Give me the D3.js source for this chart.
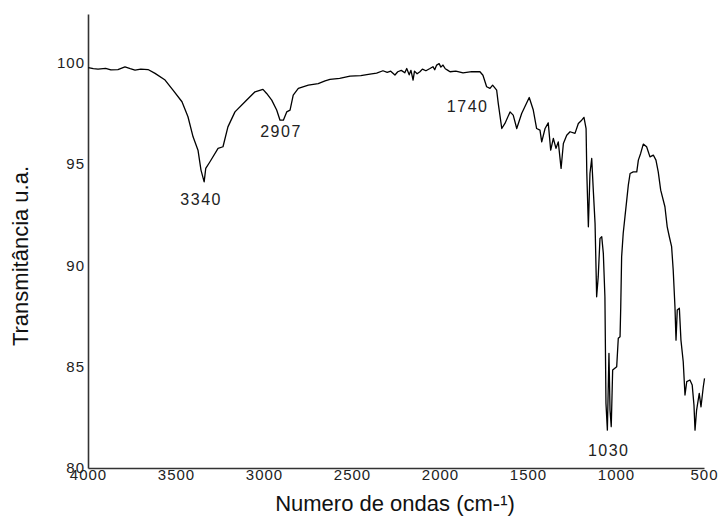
<!DOCTYPE html>
<html>
<head>
<meta charset="utf-8">
<script src="https://cdn.jsdelivr.net/npm/d3@7"></script>
<style>
  html, body { margin: 0; padding: 0; background: #fff; }
  svg { display: block; font-family: "Liberation Sans", Arial, sans-serif; }
</style>
</head>
<body>
<svg id="chart" width="719" height="517"></svg>
<script>
// wavenumber (cm-1)
const waveNumbers = [
  3998, 3970, 3943, 3900, 3870, 3830, 3790, 3760, 3733, 3700, 3659, 3619, 3562, 3517,
  3466, 3432, 3403, 3375, 3358, 3340, 3331, 3307, 3261, 3233, 3205, 3165, 3108, 3051,
  3006, 2985, 2956, 2928, 2909, 2890, 2871, 2852, 2834, 2805, 2748, 2692, 2653, 2625,
  2570, 2511, 2450, 2398, 2360, 2324, 2300, 2280, 2256, 2240, 2220, 2200, 2189, 2175,
  2165, 2153, 2145, 2130, 2114, 2100, 2080, 2057, 2040, 2030, 2019, 2005, 1995, 1983,
  1970, 1955, 1943, 1910, 1869, 1820, 1773, 1756, 1735, 1716, 1701, 1678, 1669, 1649,
  1631, 1602, 1584, 1564, 1536, 1493, 1470, 1451, 1432, 1422, 1403, 1385, 1371, 1356,
  1341, 1328, 1312, 1299, 1280, 1261, 1233, 1214, 1195, 1182, 1170, 1166, 1157, 1148,
  1138, 1129, 1119, 1110, 1101, 1091, 1081, 1072, 1063, 1057, 1049, 1040, 1034, 1027,
  1019, 996, 987, 977, 973, 968, 959, 949, 939, 930, 920, 902, 882, 873, 860, 845,
  826, 807, 788, 773, 760, 746, 722, 709, 697, 684, 675, 665, 659, 652, 640, 631,
  618, 608, 598, 580, 567, 557, 551, 542, 527, 517, 504, 497
];

// transmittance (u.a.)
const transmittance = [
  99.76, 99.70, 99.68, 99.72, 99.64, 99.66, 99.79, 99.70, 99.63, 99.68, 99.66, 99.47, 99.14, 98.64,
  98.07, 97.33, 96.34, 95.68, 94.70, 94.12, 94.78, 95.11, 95.77, 95.85, 96.83, 97.57, 98.07, 98.56,
  98.68, 98.48, 98.15, 97.66, 97.16, 97.16, 97.57, 97.66, 98.40, 98.73, 98.89, 98.97, 99.10, 99.17,
  99.22, 99.33, 99.36, 99.43, 99.48, 99.60, 99.52, 99.58, 99.39, 99.55, 99.62, 99.50, 99.71, 99.40,
  99.62, 99.14, 99.58, 99.45, 99.55, 99.68, 99.60, 99.71, 99.80, 99.65, 99.88, 99.95, 99.78, 99.88,
  99.70, 99.62, 99.55, 99.58, 99.50, 99.56, 99.55, 99.38, 98.81, 98.73, 98.89, 98.64, 97.99, 96.75,
  97.00, 97.57, 97.41, 96.75, 97.49, 98.28, 97.66, 96.75, 96.67, 96.09, 96.75, 97.03, 95.68, 96.26,
  95.77, 96.09, 94.78, 96.01, 96.42, 96.59, 96.51, 97.00, 97.16, 97.30, 96.75, 94.61, 91.90, 94.53,
  95.27, 93.71, 92.07, 88.45, 89.44, 91.33, 91.41, 90.59, 88.45, 83.19, 81.87, 85.66, 82.86, 82.04,
  84.83, 85.00, 86.40, 86.48, 87.96, 90.42, 91.58, 92.40, 93.22, 93.96, 94.53, 94.61, 94.61, 95.19, 95.52, 95.98,
  95.85, 95.35, 95.44, 95.19, 94.61, 93.71, 92.89, 91.90, 91.41, 90.92, 89.77, 87.96, 86.31, 87.79, 87.88, 86.31,
  85.24, 83.60, 84.26, 84.34, 84.09, 83.11, 81.87, 82.86, 83.68, 83.02, 84.01, 84.42
];

const xTicks = [4000, 3500, 3000, 2500, 2000, 1500, 1000, 500];
const yTicks = [80, 85, 90, 95, 100];

// peak labels, anchored at the band minimum they describe
const peakNames = ["3340", "2907", "1740", "1030"];
const peakWave = [3340, 2909, 1735, 1030];
const peakTrans = [94.12, 97.16, 98.81, 81.87];

const spectrum = waveNumbers.map((w, i) => ({ w: w, t: transmittance[i] }));
const peaks = peakNames.map((n, i) => ({ text: n, w: peakWave[i], t: peakTrans[i] }));

const svg = d3.select("#chart");
const margin = { top: 14, right: 15, bottom: 49, left: 88 };
const width = 719 - margin.left - margin.right;
const height = 517 - margin.top - margin.bottom;

const x = d3.scaleLinear().domain([4000, 500]).range([margin.left, margin.left + width]);
const y = d3.scaleLinear().domain([80, 102.4]).range([margin.top + height, margin.top]);

// x axis
const gx = svg.append("g")
  .attr("transform", `translate(0, ${margin.top + height})`)
  .call(d3.axisBottom(x).tickValues(xTicks).tickSize(0).tickPadding(1.5).tickFormat(d3.format("d")));

// y axis
const gy = svg.append("g")
  .attr("transform", `translate(${margin.left}, 0)`)
  .call(d3.axisLeft(y).tickValues(yTicks).tickSize(0).tickPadding(3).tickFormat(d3.format("d")));

[gx, gy].forEach(g => {
  g.select(".domain").attr("stroke", "#333").attr("stroke-width", 1.6);
  g.selectAll("text")
    .attr("fill", "#222")
    .style("font-size", "15px")
    .style("letter-spacing", "1px");
});

// spectrum line
const line = d3.line().x(d => x(d.w)).y(d => y(d.t));
svg.append("path")
  .datum(spectrum)
  .attr("fill", "none")
  .attr("stroke", "#000")
  .attr("stroke-width", 1.3)
  .attr("stroke-linejoin", "round")
  .attr("d", line);

// peak annotations (pixel offset from the band minimum)
const labelShift = { "3340": [-3, 23], "2907": [1, 17], "1740": [-19, 25], "1030": [-2, 26] };
svg.selectAll("text.peak")
  .data(peaks)
  .join("text")
  .attr("class", "peak")
  .attr("x", d => x(d.w) + labelShift[d.text][0])
  .attr("y", d => y(d.t) + labelShift[d.text][1])
  .attr("text-anchor", "middle")
  .attr("fill", "#222")
  .style("font-size", "16px")
  .style("letter-spacing", "1.5px")
  .text(d => d.text);

// axis titles
svg.append("text")
  .attr("x", 395)
  .attr("y", 511)
  .attr("text-anchor", "middle")
  .attr("fill", "#111")
  .style("font-size", "22px")
  .text("Numero de ondas (cm-¹)");

svg.append("text")
  .attr("transform", "translate(28, 256) rotate(-90)")
  .attr("text-anchor", "middle")
  .attr("fill", "#111")
  .style("font-size", "22px")
  .text("Transmitância u.a.");
</script>
</body>
</html>
